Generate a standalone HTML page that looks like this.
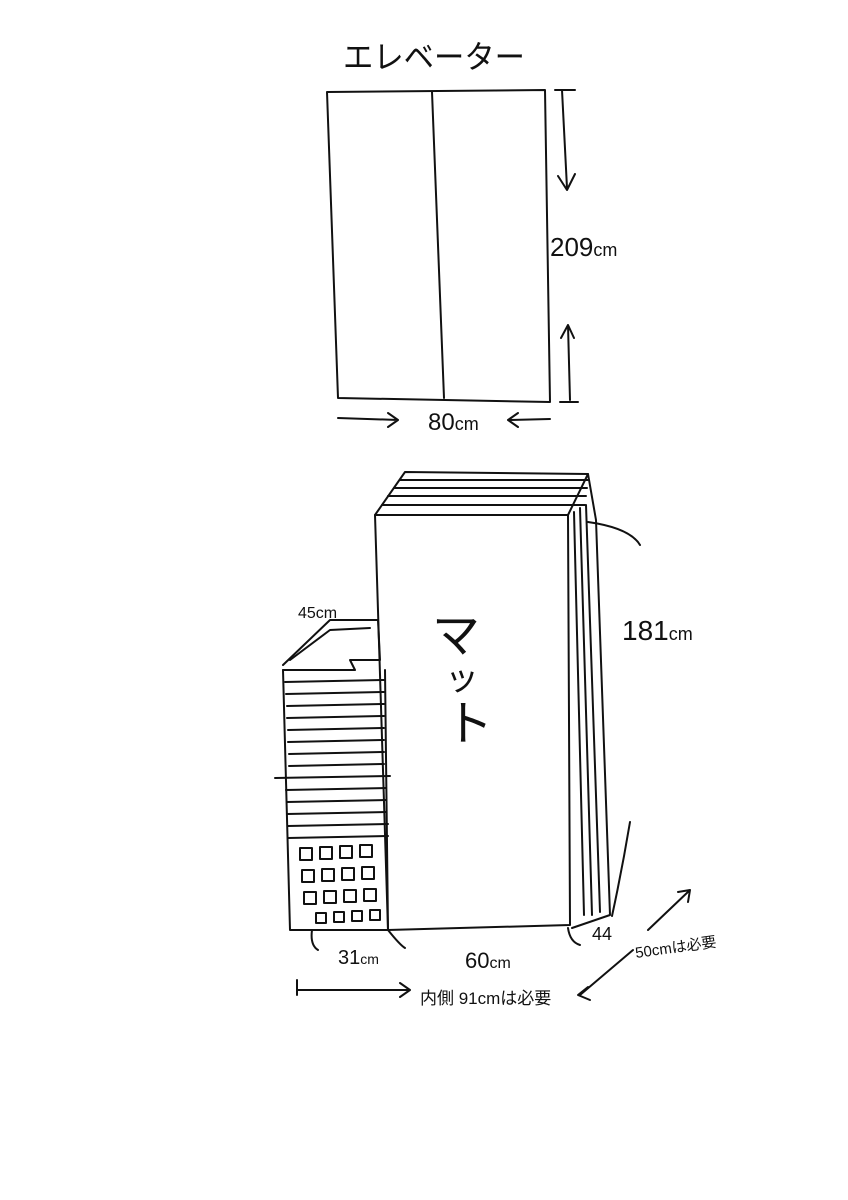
<!DOCTYPE html>
<html><head><meta charset="utf-8"><style>
html,body{margin:0;padding:0;background:#fff;}
svg{display:block;}
text{font-family:"Liberation Sans","Noto Sans CJK JP",sans-serif;fill:#111;}
</style></head><body>
<svg width="848" height="1200" viewBox="0 0 848 1200" xmlns="http://www.w3.org/2000/svg">
<g stroke="#111" stroke-width="2" fill="none" stroke-linecap="round" stroke-linejoin="round">
<!-- elevator -->
<path d="M327 92 L545 90 L550 402 L338 398 Z"/>
<path d="M432 92 L444 398"/>
<path d="M555 90 L575 90 M562 90 L567 188 M558 176 L567 190 L575 174"/>
<path d="M560 402 L578 402 M570 400 L568 325 M561 338 L568 325 L574 338"/>
<path d="M338 418 L398 420 M388 413 L398 420 L388 427"/>
<path d="M510 420 L550 419 M518 413 L508 420 L518 427"/>
<!-- mattress -->
<path d="M375 515 L568 515 L570 925 L388 930 Z"/>
<path d="M375 515 L405 472 L588 474 L568 515"/>
<path d="M382 505 L585 505 M388 496 L586 496 M394 488 L587 488 M400 480 L588 480"/>
<path d="M588 474 L596 520 L610 915 L572 928"/>
<path d="M574 512 L584 915 M580 508 L592 915 M586 505 L600 912"/>
<path d="M588 522 Q630 528 640 545"/>
<path d="M630 822 Q622 870 612 916"/>
<!-- basket -->
<path d="M283 665 L330 620 L378 620 L380 660 L350 660 L355 670 L283 670"/>
<path d="M290 660 L330 630 L370 628"/>
<path d="M283 670 L290 930 L388 930 L385 670"/>
<path d="M285 682 L384 680 M286 694 L384 692 M287 706 L384 704 M287 718 L384 716 M288 730 L384 728 M288 742 L384 740 M289 754 L384 752 M289 766 L384 764 M275 778 L390 776 M286 790 L386 788 M287 802 L386 800 M287 814 L386 812 M288 826 L388 824 M288 838 L388 836"/>
<rect x="300" y="848" width="12" height="12"/><rect x="320" y="847" width="12" height="12"/><rect x="340" y="846" width="12" height="12"/><rect x="360" y="845" width="12" height="12"/>
<rect x="302" y="870" width="12" height="12"/><rect x="322" y="869" width="12" height="12"/><rect x="342" y="868" width="12" height="12"/><rect x="362" y="867" width="12" height="12"/>
<rect x="304" y="892" width="12" height="12"/><rect x="324" y="891" width="12" height="12"/><rect x="344" y="890" width="12" height="12"/><rect x="364" y="889" width="12" height="12"/>
<rect x="316" y="913" width="10" height="10"/><rect x="334" y="912" width="10" height="10"/><rect x="352" y="911" width="10" height="10"/><rect x="370" y="910" width="10" height="10"/>
<!-- dimension arcs -->
<path d="M312 930 Q310 945 318 950 M388 930 Q400 945 405 948 M568 928 Q570 942 580 945"/>
<!-- bottom arrows -->
<path d="M297 980 L297 995 M297 990 L410 990 M400 983 L410 990 L400 997"/>
<path d="M580 995 L633 950 M648 930 L690 890 M678 892 L690 890 L688 902"/>
<path d="M588 987 L578 995 L590 1000"/>
</g>
<text x="343" y="68" font-size="32" textLength="182" lengthAdjust="spacingAndGlyphs">エレベーター</text>
<text x="550" y="256" font-size="26">209<tspan font-size="18">cm</tspan></text>
<text x="428" y="430" font-size="24">80<tspan font-size="18">cm</tspan></text>
<text x="432" y="652" font-size="48">マ</text>
<text x="445" y="690" font-size="34">ッ</text>
<text x="445" y="740" font-size="48">ト</text>
<text x="298" y="618" font-size="16">45cm</text>
<text x="622" y="640" font-size="28">181<tspan font-size="18">cm</tspan></text>
<text x="592" y="940" font-size="18">44</text>
<text x="338" y="964" font-size="20">31<tspan font-size="14">cm</tspan></text>
<text x="465" y="968" font-size="22">60<tspan font-size="16">cm</tspan></text>
<text x="636" y="958" font-size="15" transform="rotate(-8 636 958)">50cmは必要</text>
<text x="420" y="1004" font-size="17">内側 91cmは必要</text>
</svg>
</body></html>
